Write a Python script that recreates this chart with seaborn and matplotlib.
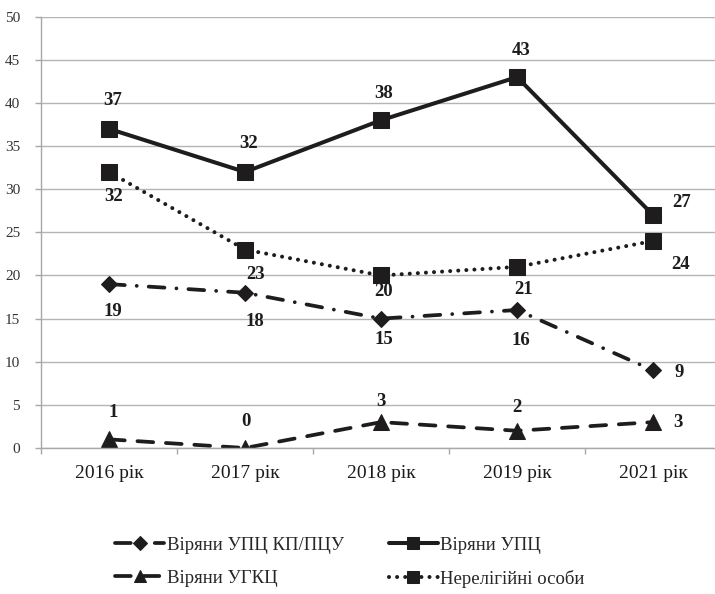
import matplotlib
matplotlib.use("Agg")
import matplotlib.pyplot as plt
import seaborn as sns
import pandas as pd
import numpy as np

years = ["2016 рік", "2017 рік", "2018 рік", "2019 рік", "2021 рік"]
kp_pcu = [19, 18, 15, 16, 9]
upc = [37, 32, 38, 43, 27]
ugkc = [1, 0, 3, 2, 3]
nonrel = [32, 23, 20, 21, 24]

names = ["Віряни УПЦ КП/ПЦУ", "Віряни УГКЦ", "Віряни УПЦ", "Нерелігійні особи"]
series = [kp_pcu, ugkc, upc, nonrel]

sns.set_theme(style="white")
plt.rcParams['font.family'] = ['Liberation Serif', 'DejaVu Serif']

fig = plt.figure(figsize=(7.15, 5.94), dpi=100)
ax = fig.add_axes([41/715, 1 - 448/594, 1 - 41/715, (448 - 16.7)/594])

ink = "#1e1c1d"
styles = [
    dict(marker="D", markersize=8.5, linewidth=2.7, linestyle=(0, (4.2, 3.2, 0.01, 3.2))),
    dict(marker="^", markersize=11, linewidth=2.7, linestyle=(0, (4.2, 3.4))),
    dict(marker="s", markersize=11, linewidth=2.9, linestyle="-"),
    dict(marker="s", markersize=11, linewidth=2.9, linestyle=(0, (0.01, 2.0))),
]

# label offsets in pixels
offsets = [
    [(4, -27), (10, -29), (3, -21), (4, -31), (26, -2)],
    [(4, 27), (1, 26), (0, 21), (0, 23), (25, 0)],
    [(4, 28), (4, 28), (3, 27), (4, 27), (29, 13)],
    [(5, -25), (11, -25), (3, -16), (6, -23), (27, -24)],
]

x = np.arange(len(years))
for name, vals, st, offs in zip(names, series, styles, offsets):
    df = pd.DataFrame({"x": x, "y": vals})
    sns.lineplot(data=df, x="x", y="y", ax=ax, color=ink, label=name,
                 markeredgecolor=ink, markerfacecolor=ink,
                 dash_capstyle="round", solid_capstyle="round",
                 solid_joinstyle="miter", **st)
    for xi, v, (dx, dy) in zip(x, vals, offs):
        ax.annotate(str(v), (xi, v), xytext=(dx, dy), textcoords="offset pixels",
                    ha="center", va="center", fontsize=13.5, fontweight="bold",
                    color=ink)

ax.set_xlim(-0.5, 4.455)
ax.set_ylim(0, 50)
ax.set_yticks(range(0, 51, 5))
ax.set_xticks(x)
ax.set_xticklabels(years)
ax.set_xticks(np.arange(-0.5, 4.5, 1), minor=True)
ax.set_xlabel("")
ax.set_ylabel("")
ax.grid(axis="y", color="#b4b4b4", linewidth=1.0)
ax.set_axisbelow(True)
for s in ["top", "right"]:
    ax.spines[s].set_visible(False)
for s in ["left", "bottom"]:
    ax.spines[s].set_color("#a8a8a8")
    ax.spines[s].set_linewidth(1.0)
ax.tick_params(axis="y", which="major", left=True, length=4, width=1, color="#a8a8a8",
               labelsize=11, labelcolor="#333333", pad=11)
ax.tick_params(axis="x", which="major", bottom=False, length=0, labelsize=14,
               labelcolor="#1a1a1a", pad=12)
ax.tick_params(axis="x", which="minor", bottom=True, length=4, width=1, color="#a8a8a8")

h, l = ax.get_legend_handles_labels()
ax.legend(h, l, ncol=2, loc="center", bbox_to_anchor=(350/715, 1 - 562/594),
          bbox_transform=fig.transFigure, frameon=False,
          prop={"family": ["Liberation Serif", "DejaVu Serif"], "size": 13.5},
          handlelength=2.6, handletextpad=0.15, columnspacing=2.4,
          labelspacing=0.85, markerscale=0.8)

fig.savefig("out.png", dpi=100)
